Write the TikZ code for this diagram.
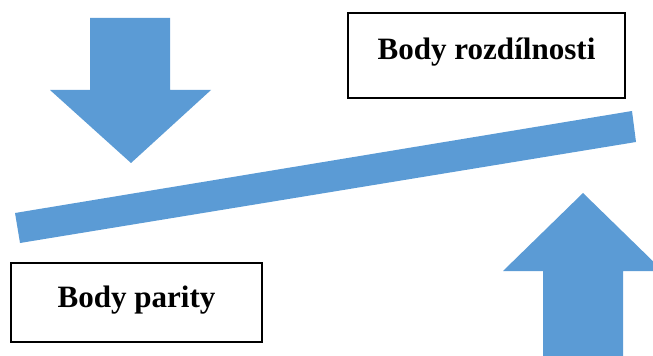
\documentclass[tikz,border=0pt]{standalone}
\usepackage{fontspec}
\setmainfont{Liberation Serif}
\definecolor{arrowblue}{HTML}{5B9BD5}
\begin{document}
\begin{tikzpicture}[x=0.75pt,y=-0.75pt,
  labelbox/.style={draw=black,line width=1.1pt,fill=white,inner sep=0pt,
    text height=12pt,text depth=5.25pt,
    font=\fontsize{23.3}{28}\selectfont\bfseries},
  blueshape/.style={fill=arrowblue}]
\useasboundingbox (0,0) rectangle (653,356);
\clip (0,0) rectangle (653,356);
% down arrow (top left)
\fill[blueshape] (90,18) -- (170,18) -- (170,90) -- (211,90) -- (131,163) -- (50,90) -- (90,90) -- cycle;
% tilted beam
\fill[blueshape] (15,213) -- (632,111) -- (636,142) -- (20,243) -- cycle;
% up arrow (bottom right)
\fill[blueshape] (543,362) -- (543,271) -- (503,271) -- (583,193) -- (663,271) -- (623,271) -- (623,362) -- cycle;
% label boxes
\node[labelbox, minimum width=207.75pt, minimum height=63.75pt] (rozdil) at (486.5,55.5) {Body rozdílnosti};
\node[labelbox, minimum width=188.25pt, minimum height=59.25pt] (parity) at (136.5,302.5) {Body parity};
\end{tikzpicture}
\end{document}
